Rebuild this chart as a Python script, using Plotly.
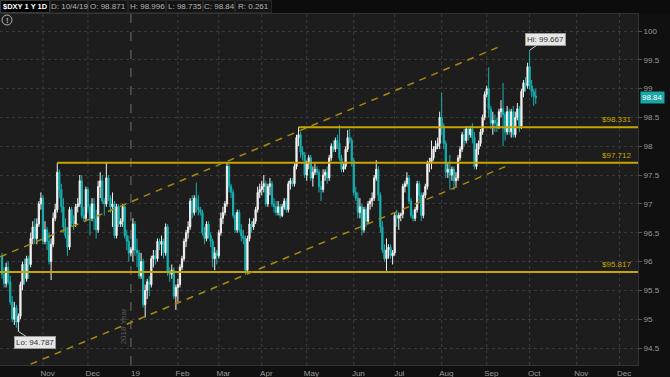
import pandas as pd
import plotly.graph_objects as go

# ---------------- data ----------------
symbol_title = "$DXY 1 Y 1D"
header_fields = ["D: 10/4/19", "O: 98.871", "H: 98.996", "L: 98.735", "C: 98.84", "R: 0.261"]

dates = pd.bdate_range("2018-10-04", "2019-10-04")

opens = [
    # Oct 2018
    96.10, 95.78, 95.62, 95.90, 95.65, 95.30, 95.00, 95.20, 94.95, 95.05, 95.60, 95.95, 95.70, 96.05, 95.95, 96.40, 96.60, 96.40, 96.65, 97.00,
    # Nov 2018
    97.10, 96.35, 96.55, 96.35, 96.00, 96.30, 96.75, 96.90, 97.55, 97.25, 96.95, 96.60, 96.45, 96.25, 96.90, 96.70, 96.65, 96.95, 97.00, 97.40, 96.80, 96.75,
    # Dec 2018
    97.25, 96.95, 96.75, 97.00, 96.75, 96.55, 97.30, 97.40, 97.05, 97.00, 97.45, 97.10, 96.95, 97.00, 96.45, 96.95, 96.65, 96.70, 96.95, 96.45, 96.35,
    # Jan 2019
    96.15, 96.20, 96.65, 96.20, 96.15, 95.75, 96.00, 95.25, 95.50, 95.65, 95.60, 96.05, 96.10, 96.05, 96.35, 96.30, 96.35, 96.15, 96.60, 95.80, 95.78, 95.85, 95.40,
    # Feb 2019
    95.55, 95.60, 95.90, 96.05, 96.35, 96.50, 96.60, 97.05, 96.85, 97.10, 96.95, 96.90, 96.85, 96.50, 96.40, 96.65, 96.45, 96.35, 96.05, 96.15,
    # Mar 2019
    96.10, 96.50, 96.75, 96.85, 97.00, 97.65, 97.30, 97.20, 96.80, 96.55, 96.85, 96.55, 96.45, 96.40, 95.85, 96.40, 96.65, 96.60, 96.70, 96.90, 97.20,
    # Apr 2019
    97.25, 97.30, 97.35, 97.00, 97.30, 97.35, 97.00, 96.95, 96.85, 96.95, 96.80, 96.95, 97.05, 96.90, 97.35, 97.40, 97.35, 97.65, 98.15, 98.20, 97.90, 97.85,
    # May 2019
    97.50, 97.70, 97.80, 97.45, 97.55, 97.60, 97.55, 97.30, 97.25, 97.50, 97.55, 97.45, 97.80, 98.00, 97.95, 98.10, 98.05, 97.80, 97.60, 97.65, 97.95, 98.15, 98.10,
    # Jun 2019
    97.75, 97.20, 97.10, 96.85, 96.95, 96.55, 96.90, 96.70, 97.00, 97.05, 97.10, 97.45, 97.60, 97.15, 96.60, 96.20, 96.05, 96.20, 96.25, 96.10,
    # Jul 2019
    96.15, 96.80, 96.75, 96.80, 96.82, 97.30, 97.35, 97.45, 97.05, 96.80, 96.75, 96.90, 97.35, 97.15, 96.80, 97.15, 97.30, 97.70, 97.72, 97.80, 97.95, 98.00, 98.05,
    # Aug 2019
    98.50, 98.35, 98.05, 97.55, 97.60, 97.50, 97.60, 97.40, 97.45, 97.80, 97.95, 98.20, 98.10, 98.30, 98.20, 98.30, 98.15, 97.65, 97.95, 98.05, 98.25, 98.50,
    # Sep 2019
    98.90, 99.00, 98.65, 98.40, 98.45, 98.40, 98.35, 98.60, 98.65, 98.55, 98.25, 98.60, 98.25, 98.60, 98.20, 98.50, 98.65, 98.35, 98.95, 99.10, 99.05,
    # Oct 2019
    99.38, 99.05, 98.95, 98.871,
]

highs = [
    96.15, 95.90, 95.98, 96.00, 95.75, 95.40, 95.30, 95.25, 95.10, 95.65, 96.00, 96.05, 96.10, 96.10, 96.50, 96.70, 96.75, 96.75, 97.05, 97.20,
    97.15, 96.70, 96.60, 96.50, 96.40, 96.85, 97.00, 97.712, 97.60, 97.35, 97.10, 96.75, 96.60, 96.95, 96.95, 96.80, 97.00, 97.10, 97.50, 97.50, 96.95, 97.30,
    97.30, 97.00, 97.10, 97.10, 96.90, 97.40, 97.55, 97.50, 97.10, 97.71, 97.50, 97.15, 97.20, 97.05, 97.00, 97.00, 96.75, 97.00, 97.00, 96.55, 96.45,
    96.25, 96.75, 96.70, 96.40, 96.20, 96.15, 96.05, 95.60, 95.70, 95.75, 96.10, 96.20, 96.20, 96.40, 96.40, 96.45, 96.40, 96.66, 96.65, 95.90, 95.95, 95.90, 95.60,
    95.70, 95.95, 96.10, 96.40, 96.55, 96.70, 97.10, 97.15, 97.15, 97.37, 97.15, 96.95, 96.90, 96.60, 96.70, 96.70, 96.50, 96.40, 96.25, 96.20,
    96.55, 96.85, 96.95, 97.05, 97.71, 97.70, 97.35, 97.25, 96.85, 96.90, 96.90, 96.65, 96.55, 96.45, 96.45, 96.75, 96.70, 96.75, 96.95, 97.30, 97.35,
    97.40, 97.50, 97.40, 97.35, 97.45, 97.40, 97.10, 97.05, 97.05, 97.00, 97.00, 97.10, 97.10, 97.40, 97.45, 97.45, 97.70, 98.20, 98.331, 98.25, 98.00, 97.90,
    97.75, 97.85, 97.85, 97.65, 97.70, 97.65, 97.60, 97.40, 97.60, 97.60, 97.65, 97.85, 98.05, 98.10, 98.15, 98.20, 98.37, 97.85, 97.70, 98.00, 98.28, 98.30, 98.15,
    97.80, 97.30, 97.20, 97.10, 97.00, 96.95, 96.95, 97.05, 97.10, 97.20, 97.50, 97.76, 97.65, 97.20, 96.70, 96.30, 96.40, 96.30, 96.30, 96.20,
    96.85, 96.90, 96.85, 96.85, 97.35, 97.40, 97.55, 97.50, 97.10, 96.90, 96.95, 97.40, 97.40, 97.20, 97.20, 97.35, 97.75, 97.80, 98.10, 98.00, 98.10, 98.15, 98.60,
    98.93, 98.40, 98.10, 97.70, 97.85, 97.65, 97.65, 97.55, 97.85, 98.00, 98.25, 98.30, 98.35, 98.35, 98.35, 98.40, 98.25, 98.05, 98.10, 98.30, 98.55, 98.95,
    99.05, 99.37, 98.70, 98.60, 98.55, 98.50, 98.65, 98.80, 99.10, 98.60, 98.70, 98.65, 98.65, 98.70, 98.60, 98.75, 98.70, 99.00, 99.15, 99.20, 99.45,
    99.667, 99.15, 99.00, 98.996,
]

lows = [
    95.70, 95.55, 95.55, 95.60, 95.25, 94.95, 94.90, 94.85, 94.787, 95.00, 95.50, 95.60, 95.65, 95.70, 95.90, 96.30, 96.30, 96.30, 96.60, 96.90,
    96.30, 96.30, 96.20, 95.95, 95.68, 96.25, 96.70, 96.85, 97.10, 96.85, 96.50, 96.40, 96.10, 96.20, 96.60, 96.55, 96.60, 96.85, 96.95, 96.75, 96.70, 96.70,
    96.85, 96.45, 96.70, 96.55, 96.40, 96.50, 97.10, 97.00, 96.80, 96.95, 97.05, 96.85, 96.60, 96.40, 96.40, 96.60, 96.60, 96.60, 96.40, 96.20, 96.00,
    96.10, 96.00, 96.10, 95.90, 95.70, 95.70, 95.20, 95.03, 95.35, 95.40, 95.55, 95.90, 95.95, 96.00, 96.20, 96.10, 96.05, 96.10, 95.75, 95.65, 95.70, 95.35, 95.16,
    95.30, 95.55, 95.85, 96.00, 96.25, 96.40, 96.55, 96.75, 96.80, 96.85, 96.80, 96.80, 96.45, 96.30, 96.35, 96.40, 96.25, 95.90, 95.85, 95.95,
    96.05, 96.45, 96.65, 96.80, 96.95, 97.20, 97.10, 96.75, 96.50, 96.50, 96.50, 96.35, 96.30, 95.77, 95.80, 96.35, 96.50, 96.55, 96.65, 96.85, 97.10,
    97.15, 97.20, 96.95, 96.95, 97.15, 96.95, 96.85, 96.80, 96.80, 96.75, 96.77, 96.90, 96.85, 96.85, 97.25, 97.30, 97.30, 97.60, 98.00, 97.80, 97.75, 97.45,
    97.40, 97.60, 97.40, 97.30, 97.50, 97.50, 97.20, 97.05, 97.20, 97.40, 97.35, 97.40, 97.75, 97.90, 97.90, 97.95, 97.75, 97.55, 97.55, 97.60, 97.90, 98.05, 97.65,
    97.15, 97.05, 96.75, 96.75, 96.45, 96.50, 96.60, 96.65, 96.90, 96.95, 97.05, 97.40, 97.05, 96.50, 96.15, 96.00, 95.84, 96.05, 96.05, 95.95,
    96.10, 96.60, 96.55, 96.70, 96.75, 97.20, 97.30, 97.00, 96.75, 96.70, 96.70, 96.85, 97.05, 96.70, 96.75, 97.10, 97.25, 97.55, 97.60, 97.75, 97.90, 97.95, 97.95,
    98.20, 97.95, 97.45, 97.45, 97.25, 97.40, 97.24, 97.30, 97.40, 97.75, 97.90, 98.00, 98.05, 98.10, 98.15, 98.05, 97.60, 97.60, 97.85, 98.00, 98.20, 98.45,
    98.85, 98.50, 98.30, 98.20, 98.25, 98.25, 98.30, 98.50, 98.00, 98.10, 98.20, 98.20, 98.15, 98.15, 98.15, 98.45, 98.25, 98.30, 98.85, 98.95, 99.00,
    98.98, 98.85, 98.70, 98.735,
]

closes = [
    95.78, 95.62, 95.90, 95.65, 95.30, 95.00, 95.20, 94.95, 95.05, 95.60, 95.95, 95.70, 96.05, 95.95, 96.40, 96.60, 96.40, 96.65, 97.00, 97.10,
    96.35, 96.55, 96.35, 96.00, 96.30, 96.75, 96.90, 97.55, 97.25, 96.95, 96.60, 96.45, 96.25, 96.90, 96.70, 96.65, 96.95, 97.00, 97.40, 96.80, 96.75, 97.25,
    96.95, 96.75, 97.00, 96.75, 96.55, 97.30, 97.40, 97.05, 97.00, 97.45, 97.10, 96.95, 97.00, 96.45, 96.95, 96.65, 96.70, 96.95, 96.45, 96.35, 96.15,
    96.20, 96.65, 96.20, 96.15, 95.75, 96.00, 95.25, 95.50, 95.65, 95.60, 96.05, 96.10, 96.05, 96.35, 96.30, 96.35, 96.15, 96.60, 95.80, 95.78, 95.85, 95.40, 95.55,
    95.60, 95.90, 96.05, 96.35, 96.50, 96.60, 97.05, 96.85, 97.10, 96.95, 96.90, 96.85, 96.50, 96.40, 96.65, 96.45, 96.35, 96.05, 96.15, 96.10,
    96.50, 96.75, 96.85, 97.00, 97.65, 97.30, 97.20, 96.80, 96.55, 96.85, 96.55, 96.45, 96.40, 95.85, 96.40, 96.65, 96.60, 96.70, 96.90, 97.20, 97.25,
    97.30, 97.35, 97.00, 97.30, 97.35, 97.00, 96.95, 96.85, 96.95, 96.80, 96.95, 97.05, 96.90, 97.35, 97.40, 97.35, 97.65, 98.15, 98.20, 97.90, 97.85, 97.50,
    97.70, 97.80, 97.45, 97.55, 97.60, 97.55, 97.30, 97.25, 97.50, 97.55, 97.45, 97.80, 98.00, 97.95, 98.10, 98.05, 97.80, 97.60, 97.65, 97.95, 98.15, 98.10, 97.75,
    97.20, 97.10, 96.85, 96.95, 96.55, 96.90, 96.70, 97.00, 97.05, 97.10, 97.45, 97.60, 97.15, 96.60, 96.20, 96.05, 96.20, 96.25, 96.10, 96.15,
    96.80, 96.75, 96.80, 96.82, 97.30, 97.35, 97.45, 97.05, 96.80, 96.75, 96.90, 97.35, 97.15, 96.80, 97.15, 97.30, 97.70, 97.72, 97.80, 97.95, 98.00, 98.05, 98.50,
    98.35, 98.05, 97.55, 97.60, 97.50, 97.60, 97.40, 97.45, 97.80, 97.95, 98.20, 98.10, 98.30, 98.20, 98.30, 98.15, 97.65, 97.95, 98.05, 98.25, 98.50, 98.90,
    99.00, 98.65, 98.40, 98.45, 98.40, 98.35, 98.60, 98.65, 98.55, 98.25, 98.60, 98.25, 98.60, 98.20, 98.50, 98.65, 98.35, 98.95, 99.10, 99.05, 99.38,
    99.05, 98.95, 98.87, 98.84,
]

level_values = [98.331, 97.712, 95.817]
level_starts = ["2019-04-25", "2018-11-12", "2018-10-03"]
channel_upper_x = ["2018-10-03", "2019-09-11"]
channel_upper_y = [96.08, 99.74]
channel_lower_x = ["2018-10-24", "2019-09-16"]
channel_lower_y = [94.22, 97.66]
hi_date, hi_value = "2019-10-01", 99.667
lo_date, lo_value = "2018-10-16", 94.787
last_price = 98.84
month_labels = ["Nov", "Dec", "19", "Feb", "Mar", "Apr", "May", "Jun", "Jul", "Aug", "Sep", "Oct", "Nov", "Dec"]
year_text = "2018 Year"

# ---------------- style ----------------
X_START, X_END = "2018-10-03", "2019-12-13"
Y_MIN, Y_MAX = 94.205, 100.295
GOLD = "#c9a500"
GOLD_DASH = "#a8890e"
UP = "#f2f2f2"
DOWN = "#17b0b0"
FONT = "Liberation Sans"
PLOT_W, PLOT_H, TOP = 638, 351, 14

def px_x(x):
    return x / PLOT_W

def px_y(y):
    return (TOP + PLOT_H - y) / PLOT_H

fig = go.Figure()
fig.add_trace(go.Candlestick(
    x=dates, open=opens, high=highs, low=lows, close=closes,
    increasing=dict(line=dict(color=UP, width=1), fillcolor=UP),
    decreasing=dict(line=dict(color=DOWN, width=1), fillcolor=DOWN),
    whiskerwidth=0, showlegend=False, hoverinfo="skip",
))

month_starts = pd.date_range("2018-11-01", "2019-12-31", freq="BMS")
label_pos = [d + pd.offsets.BDay(2) + pd.Timedelta(hours=6) for d in month_starts]

shapes = []
for d in month_starts:
    if d.month == 1:
        shapes.append(dict(type="line", xref="x", yref="paper", x0=d, x1=d, y0=0, y1=1,
                           line=dict(color="#555555", width=1.5, dash="dash"), layer="below"))
    else:
        shapes.append(dict(type="line", xref="x", yref="paper", x0=d, x1=d, y0=0, y1=1,
                           line=dict(color="#3c3c3c", width=1, dash="dot"), layer="below"))

for v, s in zip(level_values, level_starts):
    shapes.append(dict(type="line", xref="x", yref="y", x0=s, x1=X_END, y0=v, y1=v,
                       line=dict(color=GOLD, width=2)))

shapes.append(dict(type="line", xref="x", yref="y", x0=channel_upper_x[0], x1=channel_upper_x[1],
                   y0=channel_upper_y[0], y1=channel_upper_y[1],
                   line=dict(color=GOLD_DASH, width=1.5, dash="7px,6px")))
shapes.append(dict(type="line", xref="x", yref="y", x0=channel_lower_x[0], x1=channel_lower_x[1],
                   y0=channel_lower_y[0], y1=channel_lower_y[1],
                   line=dict(color=GOLD_DASH, width=1.5, dash="7px,6px")))

# header cells
cell_edges = [0, 50, 88, 128, 166, 203, 235, 272]
shapes.append(dict(type="rect", xref="paper", yref="paper", x0=0, x1=px_x(670), y0=px_y(13.5), y1=px_y(0),
                   fillcolor="#0c0c0c", line=dict(width=0), layer="below"))
for i in range(len(cell_edges) - 1):
    shapes.append(dict(type="rect", xref="paper", yref="paper",
                       x0=px_x(cell_edges[i] + 0.5), x1=px_x(cell_edges[i + 1] - 0.5),
                       y0=px_y(12.5), y1=px_y(0.5),
                       fillcolor="#000000" if i == 0 else "#141414",
                       line=dict(color="#3a3a3a" if i == 0 else "#262626", width=1)))
# alert icon
shapes.append(dict(type="circle", xref="paper", yref="paper", x0=px_x(2), x1=px_x(12),
                   y0=px_y(25), y1=px_y(15), line=dict(color="#b0b0b0", width=1)))

annotations = []
header_texts = [symbol_title] + header_fields
for i, t in enumerate(header_texts):
    cx = (cell_edges[i] + cell_edges[i + 1]) / 2
    annotations.append(dict(xref="paper", yref="paper", x=px_x(cx), y=px_y(6.5),
                            text=f"<b>{t}</b>" if i == 0 else t, showarrow=False,
                            font=dict(family=FONT, size=7.5 if i == 0 else 8,
                                      color="#ffffff" if i == 0 else "#b4b4b4"),
                            xanchor="center", yanchor="middle"))
annotations.append(dict(xref="paper", yref="paper", x=px_x(7), y=px_y(20), text="<b>!</b>",
                        showarrow=False, font=dict(family=FONT, size=8, color="#b0b0b0"),
                        xanchor="center", yanchor="middle"))

for v in level_values:
    annotations.append(dict(xref="paper", yref="y", x=px_x(633), y=v, text=f"${v:.3f}",
                            showarrow=False, xanchor="right", yanchor="bottom", yshift=1,
                            font=dict(family=FONT, size=8, color=GOLD)))

annotations.append(dict(x=hi_date, y=hi_value, xref="x", yref="y", text=f"Hi: {hi_value}",
                        showarrow=True, arrowhead=0, arrowwidth=1, arrowcolor="#c8c8c8",
                        ax=16, ay=-11, standoff=0, bgcolor="#e6e6e6", bordercolor="#9a9a9a",
                        borderwidth=1, borderpad=1, font=dict(family=FONT, size=8, color="#333333")))
annotations.append(dict(x=lo_date, y=lo_value, xref="x", yref="y", text=f"Lo: {lo_value}",
                        showarrow=True, arrowhead=0, arrowwidth=1, arrowcolor="#c8c8c8",
                        ax=17, ay=11, standoff=0, bgcolor="#e6e6e6", bordercolor="#9a9a9a",
                        borderwidth=1, borderpad=1, font=dict(family=FONT, size=8, color="#333333")))

annotations.append(dict(xref="paper", yref="y", x=1, y=last_price, text=f"{last_price:.2f}",
                        showarrow=False, xanchor="left", yanchor="middle", xshift=2,
                        bgcolor="#1aa6a6", borderpad=1,
                        font=dict(family=FONT, size=8, color="#ffffff")))

annotations.append(dict(xref="x", yref="paper", x=month_starts[2], y=px_y(346), text=year_text,
                        textangle=-90, showarrow=False, xanchor="right", yanchor="bottom", xshift=-1,
                        font=dict(family=FONT, size=8, color="#5a5a5a")))

fig.update_layout(
    template="none",
    width=670, height=377,
    margin=dict(l=0, r=32, t=TOP, b=12, autoexpand=False),
    paper_bgcolor="#101010",
    plot_bgcolor="#1d1d1d",
    showlegend=False,
    boxgap=0.15,
    shapes=shapes,
    annotations=annotations,
    font=dict(family=FONT, size=8, color="#a0a0a0"),
    xaxis=dict(
        type="date", range=[X_START, X_END],
        rangebreaks=[dict(bounds=["sat", "mon"])],
        rangeslider=dict(visible=False),
        tickmode="array", tickvals=label_pos, ticktext=month_labels,
        showgrid=False, zeroline=False, ticks="",
        tickfont=dict(family=FONT, size=8, color="#9a9a9a"),
        showline=True, linecolor="#333333", mirror=True, automargin=False,
    ),
    yaxis=dict(
        side="right", range=[Y_MIN, Y_MAX], dtick=0.5, tick0=94.5,
        showgrid=True, gridcolor="#3a3a3a", griddash="dot", gridwidth=1,
        zeroline=False, ticks="outside", ticklen=3, tickcolor="#555555",
        tickfont=dict(family=FONT, size=8, color="#9a9a9a"),
        showline=True, linecolor="#333333", mirror=True, automargin=False,
    ),
)

fig.write_html(
    "out.html",
    config={"displayModeBar": False, "staticPlot": True},
    post_script="document.body.style.margin='0';document.body.style.padding='0';"
                "document.body.style.overflow='hidden';document.body.style.background='#101010';",
)
